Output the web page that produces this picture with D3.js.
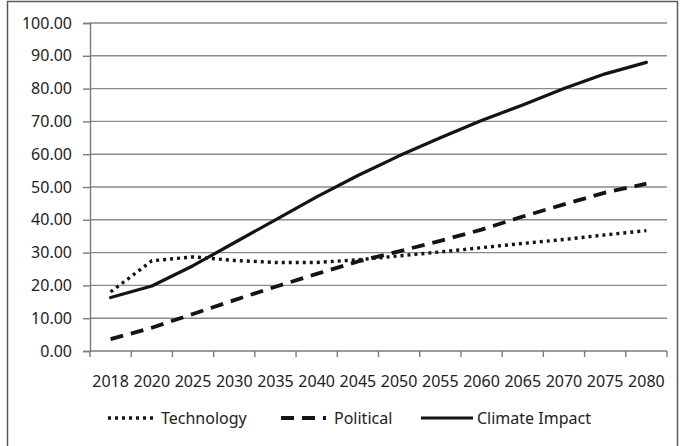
<!DOCTYPE html>
<html>
<head>
<meta charset="utf-8">
<script src="https://cdn.jsdelivr.net/npm/d3@7"></script>
<style>
  body { margin: 0; background: #fff; }
  svg text { font-family: "Noto Sans", "DejaVu Sans", sans-serif; fill: #222; }
</style>
</head>
<body>
<script>
// chart data
let years = ['2018', '2020', '2025', '2030', '2035', '2040', '2045',
             '2050', '2055', '2060', '2065', '2070', '2075', '2080']
let technology = [18, 27.5, 28.7, 27.6, 27, 27, 27.8, 29, 30.2, 31.5, 32.8, 34, 35.4, 36.7]
let political = [3.6, 7.1, 11.3, 15.5, 19.6, 23.5, 27.3, 30.4, 33.6, 37, 41, 44.7, 48.3, 51]
let climate = [16.3, 19.8, 26, 33, 40, 47, 53.5, 59.5, 65, 70.3, 75, 80, 84.5, 88]
let yTicks = [0, 10, 20, 30, 40, 50, 60, 70, 80, 90, 100]

let series = [
    { name: 'Technology', values: technology, dash: '3,4', width: 3.4, cap: 'butt' },
    { name: 'Political', values: political, dash: '13,8', width: 3.8, cap: 'butt' },
    { name: 'Climate Impact', values: climate, dash: null, width: 3.2, cap: 'round' }
]

let width = 680
let height = 446
let plot = { left: 90, right: 667, top: 23, bottom: 351 }

let svg = d3.select('body').append('svg')
    .attr('width', width)
    .attr('height', height)

// outer frame
svg.append('rect')
    .attr('x', 7.5).attr('y', 1.5)
    .attr('width', 670).attr('height', 450)
    .attr('fill', 'none')
    .attr('stroke', '#5a5a5a')
    .attr('stroke-width', 1.5)

let x = d3.scaleBand().domain(years).range([plot.left, plot.right])
let y = d3.scaleLinear().domain([0, 100]).range([plot.bottom, plot.top])

// horizontal gridlines
svg.append('g')
    .selectAll('line')
    .data(yTicks.filter(t => t > 0))
    .enter().append('line')
    .attr('x1', plot.left).attr('x2', plot.right)
    .attr('y1', d => y(d)).attr('y2', d => y(d))
    .attr('stroke', '#8a8a8a')
    .attr('stroke-width', 1.4)

// y axis
let yAxis = svg.append('g')
    .attr('transform', 'translate(' + plot.left + ',0)')
    .call(d3.axisLeft(y).tickValues(yTicks).tickFormat(d3.format('.2f')).tickSize(7).tickPadding(11))
yAxis.selectAll('line, path').attr('stroke', '#7a7a7a').attr('stroke-width', 1.4)
yAxis.selectAll('text').style('font-size', '16px')

// x axis, ticks at the band edges
let xAxis = svg.append('g')
    .attr('transform', 'translate(0,' + plot.bottom + ')')
xAxis.append('line')
    .attr('x1', plot.left).attr('x2', plot.right)
    .attr('stroke', '#7a7a7a').attr('stroke-width', 1.4)
xAxis.selectAll('.edge')
    .data(years.concat(['end']))
    .enter().append('line')
    .attr('class', 'edge')
    .attr('x1', (d, i) => i < years.length ? x(d) : x(years[years.length - 1]) + x.bandwidth())
    .attr('x2', (d, i) => i < years.length ? x(d) : x(years[years.length - 1]) + x.bandwidth())
    .attr('y1', 0).attr('y2', 6)
    .attr('stroke', '#7a7a7a').attr('stroke-width', 1.4)
xAxis.selectAll('.year')
    .data(years)
    .enter().append('text')
    .attr('class', 'year')
    .attr('x', d => x(d) + x.bandwidth() / 2)
    .attr('y', 36)
    .attr('text-anchor', 'middle')
    .style('font-size', '16px')
    .text(d => d)

// the three lines
let line = d3.line()
    .x((d, i) => x(years[i]) + x.bandwidth() / 2)
    .y(d => y(d))

svg.append('g')
    .selectAll('path')
    .data(series)
    .enter().append('path')
    .attr('d', s => line(s.values))
    .attr('fill', 'none')
    .attr('stroke', '#141414')
    .attr('stroke-width', s => s.width)
    .attr('stroke-dasharray', s => s.dash)
    .attr('stroke-linecap', s => s.cap)
    .attr('stroke-linejoin', 'round')

// legend
let legendX = [108, 281, 421]
let legend = svg.append('g').attr('transform', 'translate(0,418)')
let item = legend.selectAll('g')
    .data(series)
    .enter().append('g')
    .attr('transform', (d, i) => 'translate(' + legendX[i] + ',0)')
item.append('line')
    .attr('x1', 0).attr('x2', (d, i) => i == 2 ? 52 : 45)
    .attr('stroke', '#141414')
    .attr('stroke-width', d => d.width)
    .attr('stroke-dasharray', d => d.dash)
item.append('text')
    .attr('x', (d, i) => i == 2 ? 56 : 53)
    .attr('dy', '0.35em')
    .style('font-size', '16px')
    .text(d => d.name)
</script>
</body>
</html>
